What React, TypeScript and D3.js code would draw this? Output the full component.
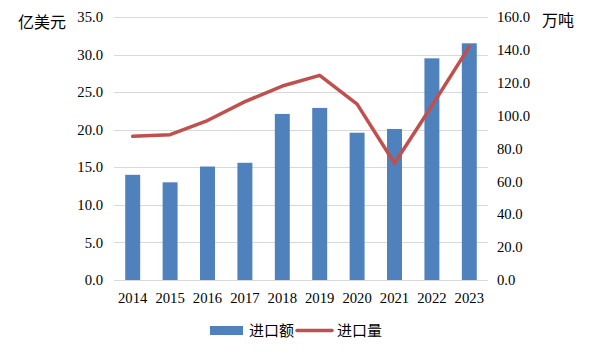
import React, { useEffect, useRef } from "react";
import * as d3 from "d3";

const years = ["2014", "2015", "2016", "2017", "2018", "2019", "2020", "2021", "2022", "2023"];
const importValue = [14.0, 13.0, 15.1, 15.6, 22.1, 22.9, 19.6, 20.1, 29.5, 31.5];
const importVolume = [87.4, 88.4, 97.0, 108.5, 118.0, 124.5, 107.0, 71.0, 106.0, 142.0];
const leftTicks = [0, 5, 10, 15, 20, 25, 30, 35];
const rightTicks = [0, 20, 40, 60, 80, 100, 120, 140, 160];

const W = 593;
const H = 353;
const margin = { top: 17, right: 105, bottom: 73, left: 114 };
const serif = "'Liberation Serif', 'Times New Roman', serif";
const cjk = "'Noto Sans CJK SC', sans-serif";

const drawChart = (ref: SVGSVGElement) => {
    const svg = d3.select(ref);
    svg.selectAll("*").remove();
    const innerH = H - margin.top - margin.bottom;

    const x = d3.scaleBand().domain(years).range([margin.left, W - margin.right]).paddingInner(0.6).paddingOuter(0.3);
    const yL = d3.scaleLinear().domain([0, 35]).range([margin.top + innerH, margin.top]);
    const yR = d3.scaleLinear().domain([0, 160]).range([margin.top + innerH, margin.top]);

    // gridlines
    svg.append("g")
        .selectAll("line")
        .data(leftTicks)
        .enter()
        .append("line")
        .attr("x1", margin.left)
        .attr("x2", W - margin.right)
        .attr("y1", (d) => Math.round(yL(d)) + 0.5)
        .attr("y2", (d) => Math.round(yL(d)) + 0.5)
        .attr("stroke", "#d9d9d9")
        .attr("stroke-width", 1);

    // bars
    svg.append("g")
        .selectAll("rect")
        .data(importValue)
        .enter()
        .append("rect")
        .attr("x", (d, i) => x(years[i])!)
        .attr("y", (d) => yL(d))
        .attr("width", x.bandwidth())
        .attr("height", (d) => yL(0) - yL(d))
        .attr("fill", "#4F81BD");

    // line
    const line = d3
        .line<number>()
        .x((d, i) => x(years[i])! + x.bandwidth() / 2)
        .y((d) => yR(d));
    svg.append("path")
        .datum(importVolume)
        .attr("d", line)
        .attr("fill", "none")
        .attr("stroke", "#C0504D")
        .attr("stroke-width", 3.5)
        .attr("stroke-linejoin", "round")
        .attr("stroke-linecap", "round");

    // left axis labels
    svg.append("g")
        .selectAll("text")
        .data(leftTicks)
        .enter()
        .append("text")
        .attr("x", 103)
        .attr("y", (d) => yL(d))
        .attr("dy", "0.35em")
        .attr("text-anchor", "end")
        .style("font-family", serif)
        .style("font-size", "14.7px")
        .text((d) => d.toFixed(1));

    // right axis labels
    svg.append("g")
        .selectAll("text")
        .data(rightTicks)
        .enter()
        .append("text")
        .attr("x", 497)
        .attr("y", (d) => yR(d))
        .attr("dy", "0.35em")
        .attr("text-anchor", "start")
        .style("font-family", serif)
        .style("font-size", "14.7px")
        .text((d) => d.toFixed(1));

    // x labels
    svg.append("g")
        .selectAll("text")
        .data(years)
        .enter()
        .append("text")
        .attr("x", (d) => x(d)! + x.bandwidth() / 2)
        .attr("y", 298)
        .attr("dy", "0.35em")
        .attr("text-anchor", "middle")
        .style("font-family", serif)
        .style("font-size", "14.7px")
        .text((d) => d);

    // unit labels
    svg.append("text").attr("x", 18).attr("y", 28).style("font-family", cjk).style("font-size", "16px").text("亿美元");
    svg.append("text").attr("x", 542).attr("y", 26).style("font-family", cjk).style("font-size", "16px").text("万吨");

    // legend
    const lg = svg.append("g");
    lg.append("rect").attr("x", 210).attr("y", 326).attr("width", 33).attr("height", 9).attr("fill", "#4F81BD");
    lg.append("text").attr("x", 249).attr("y", 336).style("font-family", cjk).style("font-size", "15px").text("进口额");
    lg.append("line").attr("x1", 297).attr("x2", 332).attr("y1", 330.5).attr("y2", 330.5).attr("stroke", "#C0504D").attr("stroke-width", 3.5).attr("stroke-linecap", "round");
    lg.append("text").attr("x", 337).attr("y", 336).style("font-family", cjk).style("font-size", "15px").text("进口量");
};

export default function App() {
    const svgRef = useRef<SVGSVGElement>(null);
    useEffect(() => {
        if (svgRef.current) drawChart(svgRef.current);
    }, []);
    return (
        <svg
            ref={svgRef}
            width={W}
            height={H}
            style={{ position: "absolute", left: 0, top: 0, background: "#fff" }}
        />
    );
}
